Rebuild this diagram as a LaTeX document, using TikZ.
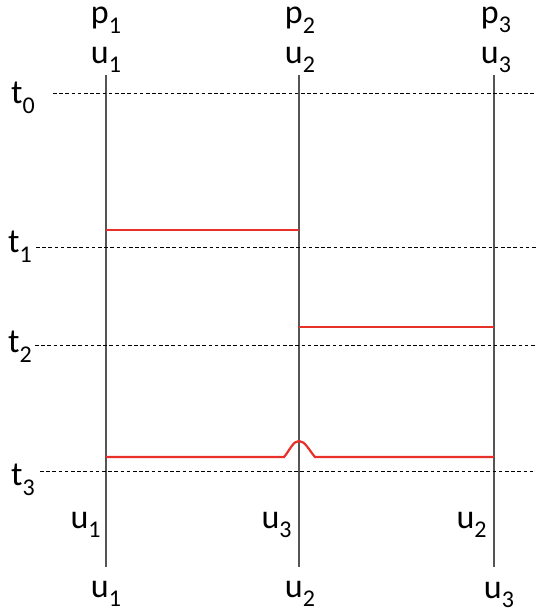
\documentclass[tikz,border=0pt]{standalone}
\usepackage{fontspec}
\setmainfont{Carlito}
\usepackage{tikz}
\usetikzlibrary{
  positioning,
  calc
}
\definecolor{LifeGray}{HTML}{555555}
\definecolor{EventRed}{HTML}{E8302A}
\newcommand{\idx}[1]{%
  \raisebox{-0.28em}{\fontsize{12}{12}\selectfont #1}%
}
\tikzset{
  tag/.style={
    font=\fontsize{17}{20}\selectfont,
    inner sep=0pt,
    anchor=center
  },
  sidetag/.style={
    tag,
    anchor=east
  },
  lifeline/.style={
    draw=LifeGray,
    line width=0.7pt
  },
  timeline/.style={
    draw=black,
    line width=0.5pt,
    dash pattern=on 1.8pt off 1.3pt
  },
  event/.style={
    draw=EventRed,
    line width=1.1pt
  }
}

\begin{document}
\begin{tikzpicture}[x=0.5pt, y=-0.5pt]

  \useasboundingbox (0,0) rectangle (536,612);

  \node[tag] (p1) at (106,20) {p\idx{1}};
  \node[tag] (p2) at (300,20) {p\idx{2}};
  \node[tag] (p3) at (496,20) {p\idx{3}};

  \node[tag] (top1) at (106,60) {u\idx{1}};
  \node[tag] (top2) at (300,60) {u\idx{2}};
  \node[tag] (top3) at (496,60) {u\idx{3}};

  \node[tag] (t0) at (23,98) {t\idx{0}};
  \node[tag] (t1) at (20,247) {t\idx{1}};
  \node[tag] (t2) at (20,347) {t\idx{2}};
  \node[tag] (t3) at (23,480) {t\idx{3}};

  \node[sidetag] (mid1) at (101,525) {u\idx{1}};
  \node[sidetag] (mid2) at (292,525) {u\idx{3}};
  \node[sidetag] (mid3) at (487,525) {u\idx{2}};

  \node[tag] (bot1) at (106,594) {u\idx{1}};
  \node[tag] (bot2) at (300,594) {u\idx{2}};
  \node[tag] (bot3) at (499,595) {u\idx{3}};

  \coordinate (l1a) at (106,75);
  \coordinate (l1b) at (106,567);
  \coordinate (l2a) at (299,75);
  \coordinate (l2b) at (299,567);
  \coordinate (l3a) at (494,75);
  \coordinate (l3b) at (494,567);

  \draw[lifeline] (l1a) -- (l1b);
  \draw[lifeline] (l2a) -- (l2b);
  \draw[lifeline] (l3a) -- (l3b);

  \coordinate (d0a) at (53,93);
  \coordinate (d0b) at (536,93);
  \coordinate (d1a) at (36,247);
  \coordinate (d1b) at (536,247);
  \coordinate (d2a) at (35,345);
  \coordinate (d2b) at (536,345);
  \coordinate (d3a) at (40,471);
  \coordinate (d3b) at (536,471);

  \draw[timeline] (d0a) -- (d0b);
  \draw[timeline] (d1a) -- (d1b);
  \draw[timeline] (d2a) -- (d2b);
  \draw[timeline] (d3a) -- (d3b);

  \coordinate (e1a) at (106,230);
  \coordinate (e1b) at (299,230);
  \coordinate (e2a) at (299,327);
  \coordinate (e2b) at (494,327);
  \coordinate (e3a) at (106,457);
  \coordinate (e3b) at (494,457);
  \coordinate (bumpl) at (284,457);
  \coordinate (bumpr) at (315,457);
  \coordinate (peak) at (299,441);

  \draw[event] (e1a) -- (e1b);
  \draw[event] (e2a) -- (e2b);
  \draw[event]
    (e3a) -- (bumpl)
    .. controls (290,450) and (293,441) .. (peak)
    .. controls (305,441) and (309,450) .. (bumpr)
    -- (e3b);

\end{tikzpicture}
\end{document}
